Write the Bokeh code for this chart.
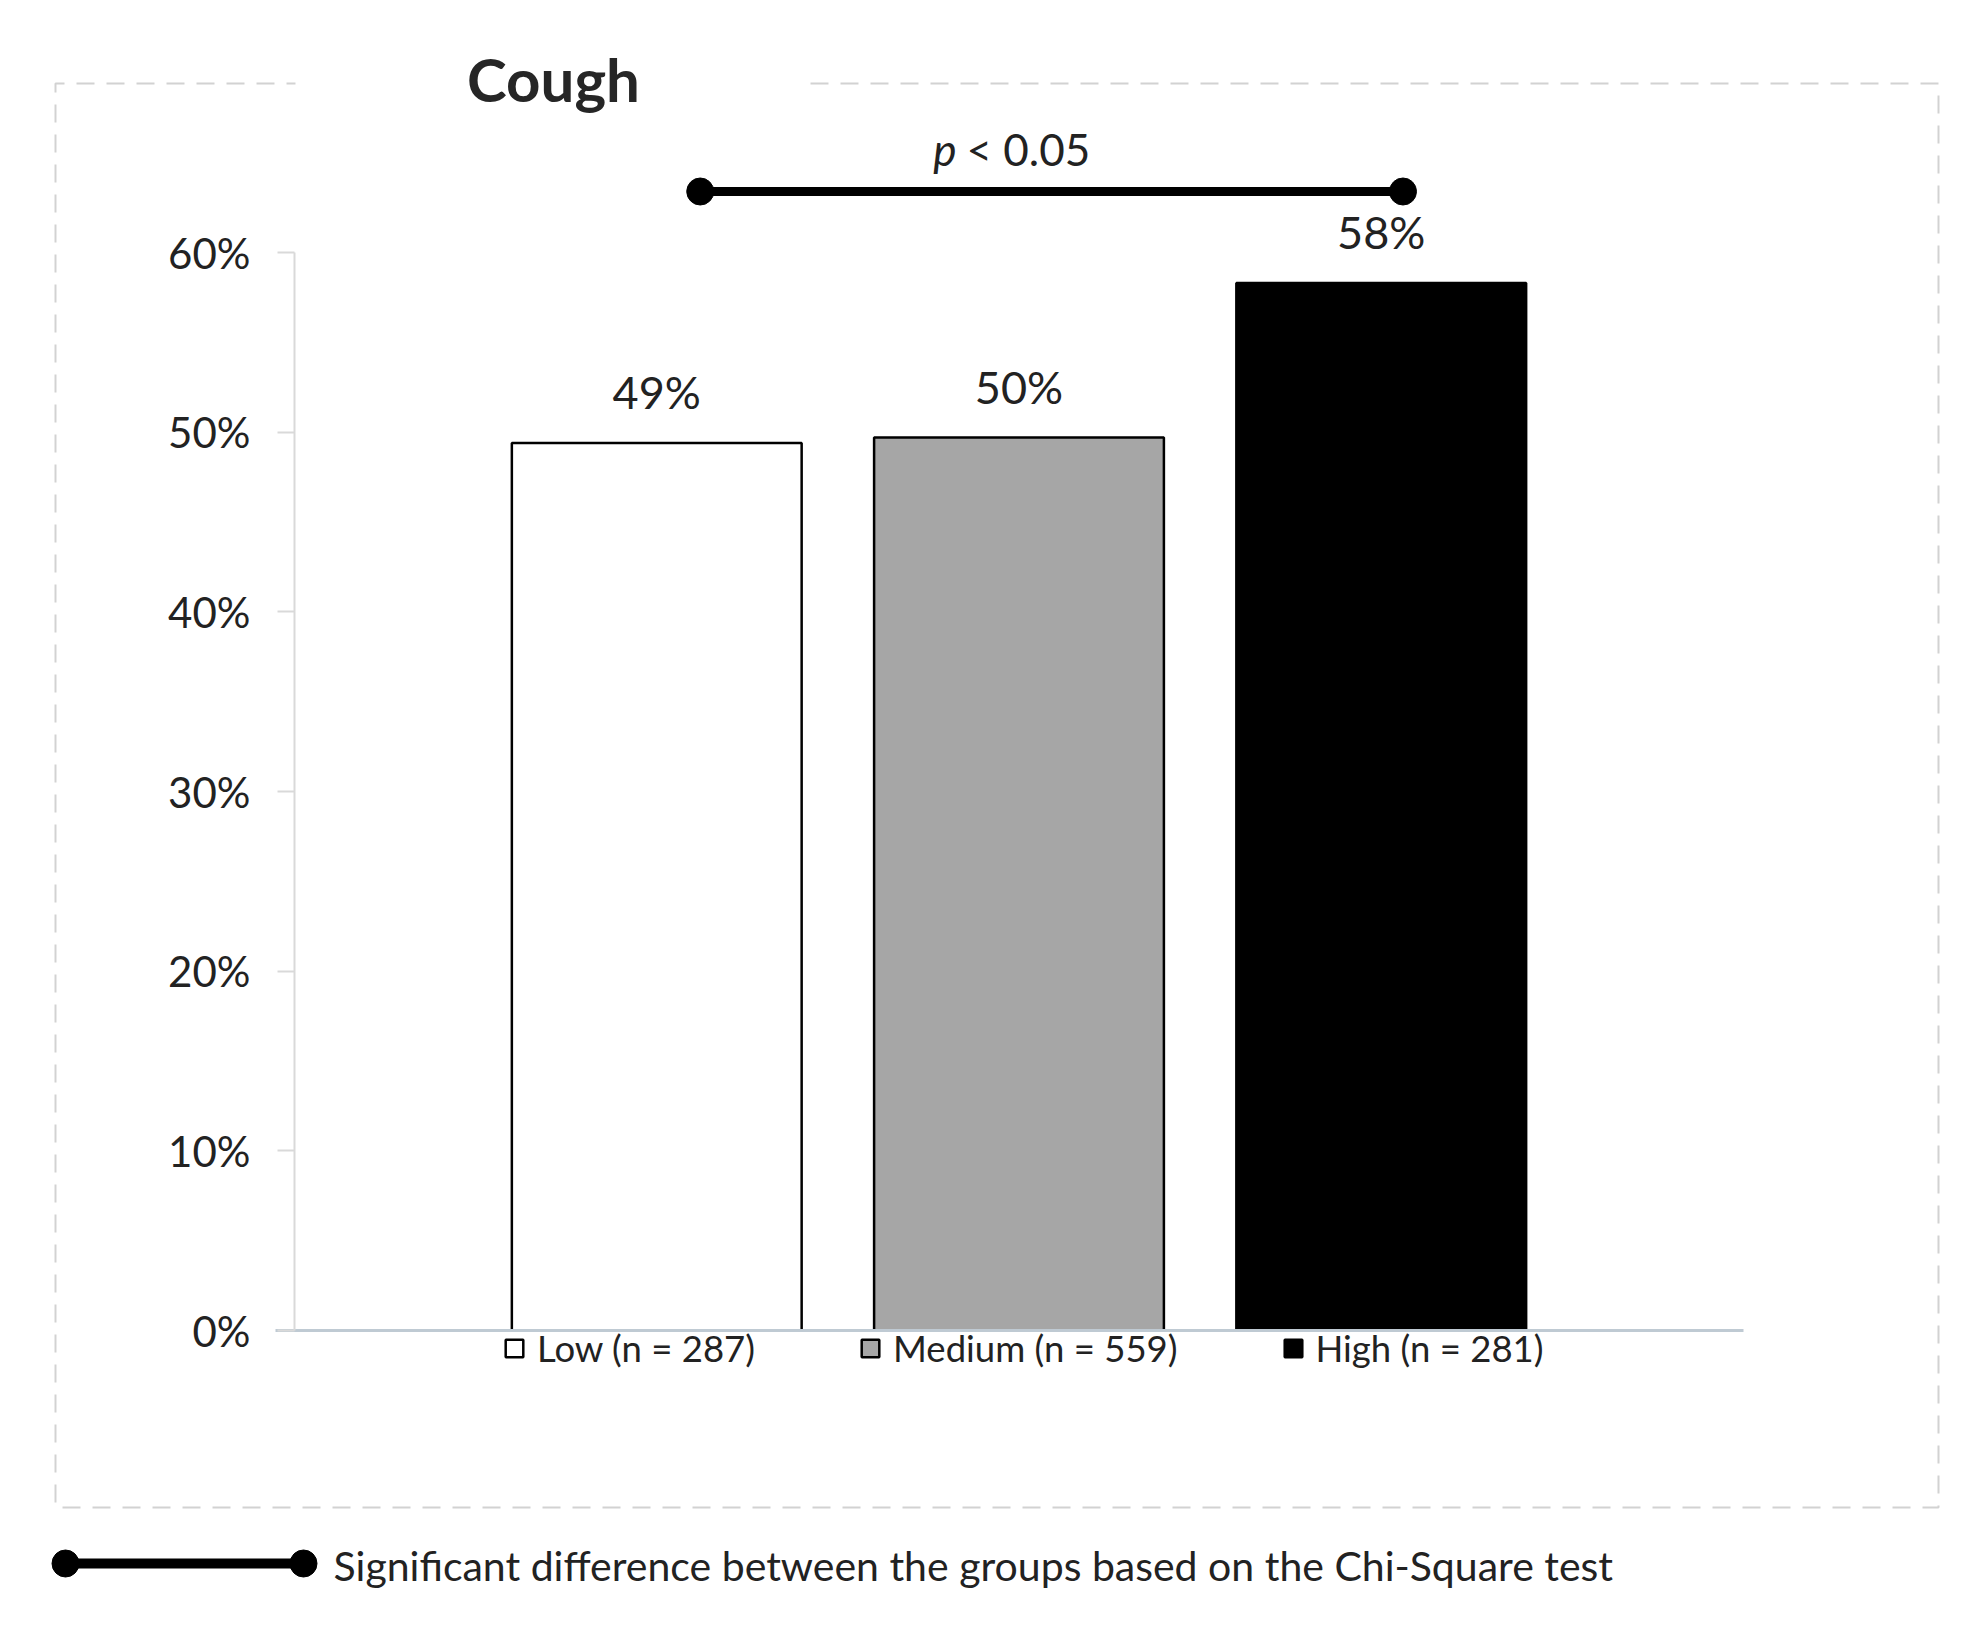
from bokeh.plotting import figure
from bokeh.models import (Range1d, NumeralTickFormatter, FixedTicker, Legend, LegendItem,
                          ColumnDataSource)
from bokeh.core.properties import value
from bokeh.embed import file_html
from bokeh.resources import INLINE

# ---------------- data ----------------
title_text = "Cough"
groups = ["Low", "Medium", "High"]
group_n = [287, 559, 281]
cough_share = [0.494, 0.497, 0.583]
bar_colors = ["#ffffff", "#a6a6a6", "#000000"]
tick_values = [0.0, 0.1, 0.2, 0.3, 0.4, 0.5, 0.6]
p_label = "< 0.05"
note_text = "Significant difference between the groups based on the Chi-Square test"

# ---------------- layout (page pixels) ----------------
FONT = "Lato"
TXT = "#222222"
W, H = 1968, 1621
M = 0                      # offset of the figure on the page
PX0, PX1 = 294, 1743       # x of category axis start / end
PY0, PY60 = 1330, 252      # y of 0 % and 60 %
X_END = 4
ux = (PX1 - PX0) / X_END
uy = (PY0 - PY60) / 0.6


def dx(px):
    return (px - PX0) / ux


def dy(py):
    return (PY0 - py) / uy


p = figure(width=W, height=H,
           x_range=Range1d(dx(M), dx(M + W)), y_range=Range1d(dy(M + H), dy(M)),
           output_backend="svg", toolbar_location=None,
           min_border_left=0, min_border_right=0, min_border_top=0, min_border_bottom=0)
p.outline_line_color = None
p.grid.visible = False
p.background_fill_color = "white"
p.border_fill_color = "white"

# outer dashed chart border, open where the title sits
p.line(x=[dx(810), dx(1938), dx(1938), dx(55), dx(55), dx(295)],
       y=[dy(83), dy(83), dy(1507), dy(1507), dy(83), dy(83)],
       line_color="#d2d2d2", line_width=2, line_dash="18 12")
p.text(x=[dx(553)], y=[dy(78)], text=[title_text], text_align="center",
       text_baseline="alphabetic", text_font=value(FONT), text_font_style="bold",
       text_font_size="60px", text_color="#262626")

# bars
xs = list(range(1, len(groups) + 1))
labels = [f"{g} (n = {n})" for g, n in zip(groups, group_n)]
pcts = [f"{round(v * 100)}%" for v in cough_share]
src = ColumnDataSource(dict(x=xs, top=cough_share, color=bar_colors, label=labels, pct=pcts))
bars = p.vbar(x="x", top="top", width=0.8, fill_color="color", line_color="black",
              line_width=2.5, source=src)
p.text(x="x", y="top", text="pct", source=src, text_align="center",
       text_baseline="middle", y_offset=-51, text_font=value(FONT),
       text_font_size="45px", text_color=TXT)

# significance bracket (Low vs High)
bx0, bx1 = xs[0] + 0.12, xs[2] + 0.06
by = dy(191)
p.segment(x0=[bx0], y0=[by], x1=[bx1], y1=[by], line_color="black", line_width=9)
p.scatter(x=[bx0, bx1], y=[by, by], size=27, color="black")
pmid = dx(960)
ptxt = dy(148)
p.text(x=[pmid], y=[ptxt], text=["p"], text_align="right", text_baseline="middle",
       x_offset=-4, text_font=value(FONT), text_font_style="italic",
       text_font_size="44px", text_color=TXT)
p.text(x=[pmid], y=[ptxt], text=[p_label], text_align="left", text_baseline="middle",
       x_offset=6, text_font=value(FONT), text_font_size="44px", text_color=TXT)

# y axis (fixed at x = 0)
ya = p.yaxis[0]
ya.fixed_location = 0
ya.ticker = FixedTicker(ticks=tick_values)
ya.formatter = NumeralTickFormatter(format="0%")
ya.bounds = (0, 0.6)
ya.axis_line_color = "#d9d9d9"
ya.axis_line_width = 2
ya.major_tick_line_color = "#d9d9d9"
ya.major_tick_line_width = 2
ya.major_tick_out = 17
ya.major_tick_in = 0
ya.minor_tick_line_color = None
ya.major_label_text_font = FONT
ya.major_label_text_font_size = "42px"
ya.major_label_text_color = TXT
ya.major_label_standoff = 27

# x axis (fixed at y = 0), starting a little left of the value axis
xa = p.xaxis[0]
xa.fixed_location = 0
xa.bounds = (dx(275), X_END)
xa.ticker = FixedTicker(ticks=[])
xa.major_label_text_font_size = "0px"
xa.axis_line_color = "#bfcad3"
xa.axis_line_width = 3
xa.major_tick_line_color = None
xa.minor_tick_line_color = None

# legend under the axis
legend = Legend(items=[LegendItem(label=lab, renderers=[bars], index=i)
                       for i, lab in enumerate(labels)],
                orientation="horizontal", location=(503 - M, H + M - 1370),
                glyph_width=22, glyph_height=22, label_standoff=12, spacing=104,
                label_text_font=FONT, label_text_font_size="36.5px",
                label_text_color=TXT, label_height=36,
                border_line_color=None, background_fill_alpha=0,
                margin=0, padding=0)
p.add_layout(legend)

# note about the bracket symbol
ny = dy(1563)
p.segment(x0=[dx(65)], y0=[ny], x1=[dx(303)], y1=[ny], line_color="black", line_width=10)
p.scatter(x=[dx(65), dx(303)], y=[ny, ny], size=27, color="black")
p.text(x=[dx(333)], y=[dy(1565)], text=[note_text], text_align="left",
       text_baseline="alphabetic", text_font=value(FONT),
       text_font_size="41px", text_color=TXT)

open("out.html", "w").write(file_html(p, INLINE))
